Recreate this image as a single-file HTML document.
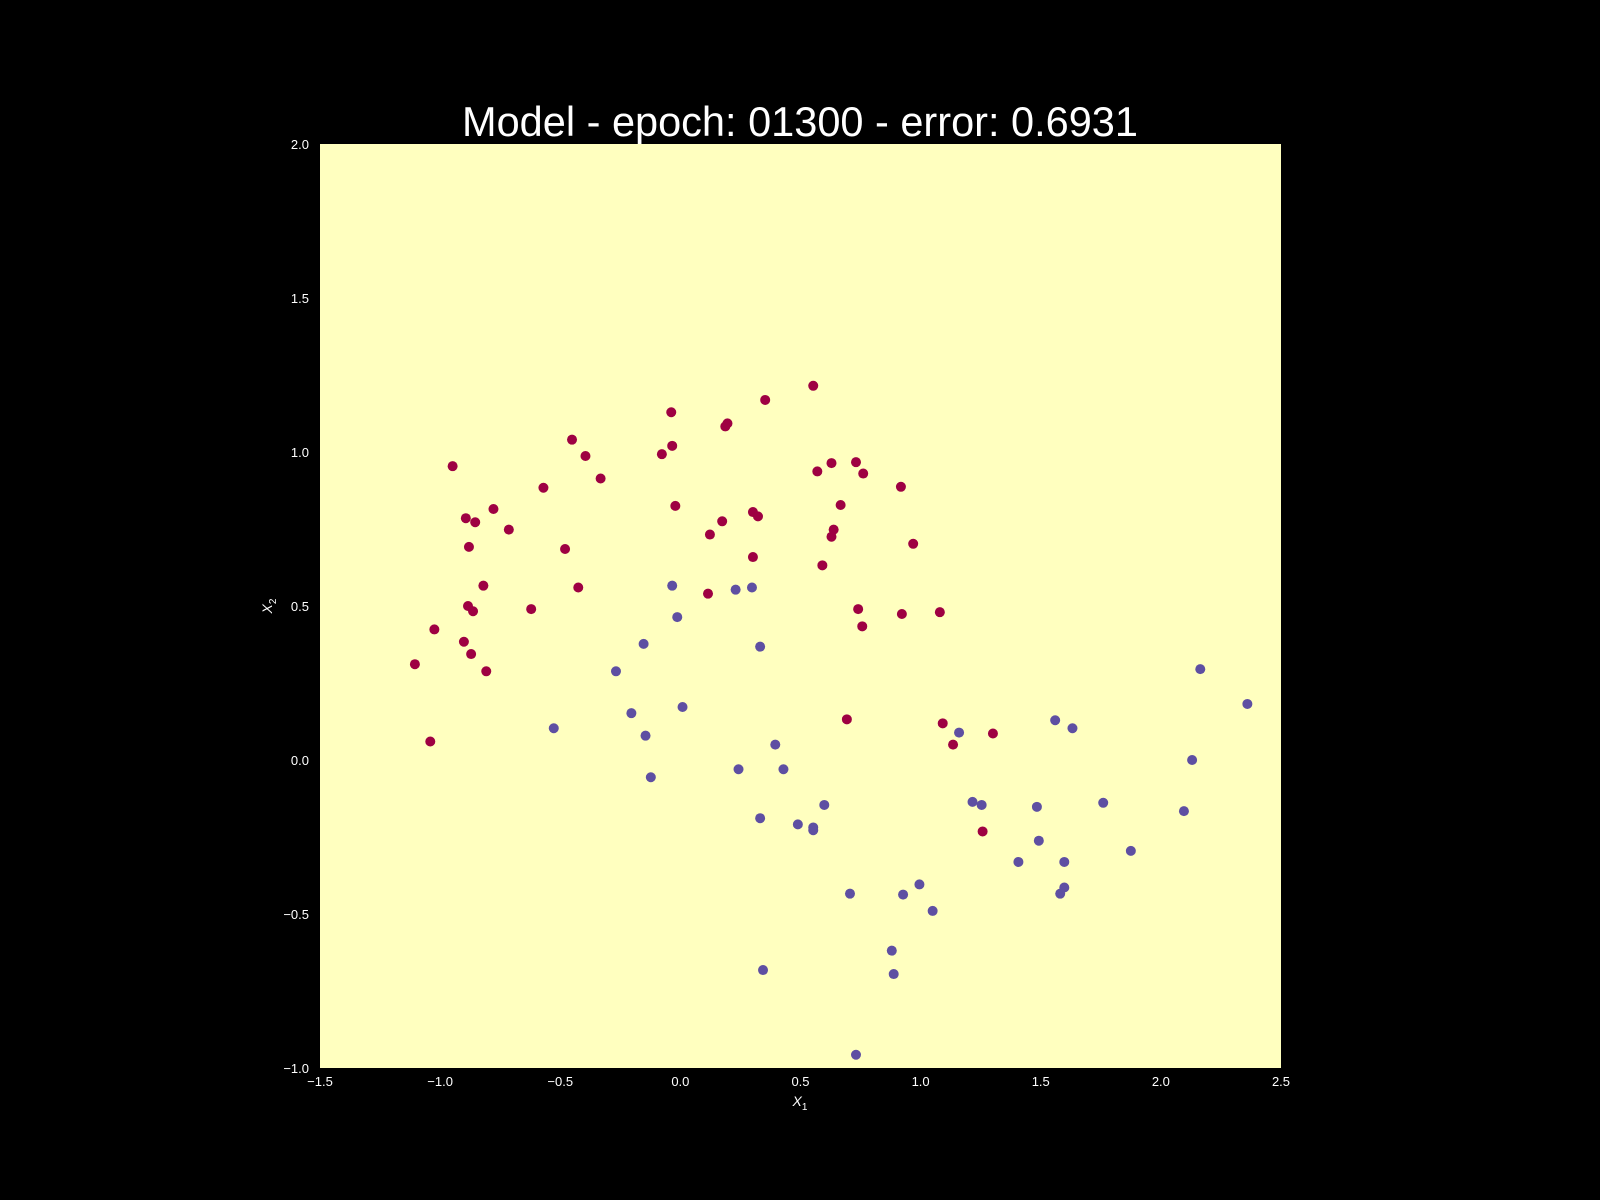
<!DOCTYPE html>
<html><head><meta charset="utf-8"><style>
html,body{margin:0;padding:0;background:#000;}
svg{display:block;font-family:"Liberation Sans",sans-serif;}
</style></head><body>
<svg id="chart" width="1600" height="1200" viewBox="0 0 1600 1200">
<rect x="0" y="0" width="1600" height="1200" fill="#000"/>
<text x="800" y="136" fill="#fff" font-size="41.5" text-anchor="middle">Model - epoch: 01300 - error: 0.6931</text>
<rect x="320" y="144" width="961" height="924" fill="#ffffbf"/>
<g id="ticks"></g>
<g id="points"></g>
<text x="800" y="1106" fill="#fff" font-size="14" font-style="italic" text-anchor="middle">X<tspan font-size="10" dy="4" font-style="normal">1</tspan></text>
<text transform="translate(272,606) rotate(-90)" fill="#fff" font-size="14" font-style="italic" text-anchor="middle">X<tspan font-size="10" dy="4" font-style="normal">2</tspan></text>
</svg>
<script>
const xTicks=[-1.5,-1.0,-0.5,0.0,0.5,1.0,1.5,2.0,2.5];
const yTicks=[-1.0,-0.5,0.0,0.5,1.0,1.5,2.0];
const redX=[-1.105,-1.041,-1.024,-0.948,-0.893,-0.880,-0.884,-0.863,-0.901,-0.871,-0.854,-0.820,-0.808,-0.778,-0.714,-0.621,-0.570,-0.480,-0.451,-0.425,-0.395,-0.332,-0.077,-0.038,-0.034,-0.021,0.115,0.123,0.174,0.187,0.196,0.302,0.302,0.323,0.353,0.553,0.570,0.591,0.629,0.629,0.638,0.667,0.731,0.740,0.757,0.761,0.693,0.918,0.922,0.969,1.080,1.092,1.135,1.301,1.258];
const redY=[0.311,0.060,0.424,0.954,0.785,0.692,0.500,0.483,0.384,0.344,0.772,0.566,0.288,0.815,0.748,0.490,0.884,0.685,1.040,0.560,0.987,0.914,0.993,1.129,1.020,0.825,0.540,0.732,0.775,1.083,1.093,0.805,0.659,0.791,1.169,1.215,0.937,0.632,0.964,0.725,0.748,0.828,0.967,0.490,0.434,0.930,0.132,0.887,0.474,0.702,0.480,0.119,0.050,0.086,-0.232];
const blueX=[-0.527,-0.268,-0.204,-0.153,-0.145,-0.123,-0.034,-0.013,0.009,0.230,0.242,0.298,0.332,0.332,0.395,0.429,0.489,0.553,0.553,0.599,0.344,0.706,0.731,0.880,0.888,0.927,0.995,1.050,1.160,1.216,1.254,1.407,1.484,1.492,1.560,1.581,1.598,1.598,1.632,1.760,1.875,2.096,2.130,2.164,2.360];
const blueY=[0.103,0.288,0.152,0.377,0.079,-0.056,0.566,0.464,0.172,0.553,-0.030,0.560,0.368,-0.189,0.050,-0.030,-0.209,-0.219,-0.228,-0.146,-0.682,-0.434,-0.957,-0.619,-0.695,-0.437,-0.404,-0.490,0.089,-0.136,-0.146,-0.331,-0.152,-0.262,0.129,-0.434,-0.331,-0.414,0.103,-0.139,-0.295,-0.166,0.000,0.295,0.182];
const L=320,R=1281,T=144,B=1068;
function sx(v){return L+(v+1.5)/4*(R-L);}
function sy(v){return B-(v+1)/3*(B-T);}
const NS="http://www.w3.org/2000/svg";
const tg=document.getElementById('ticks');
function fmt(v){return (v<0?'\u2212':'')+Math.abs(v).toFixed(1);}
xTicks.forEach(v=>{
 const t=document.createElementNS(NS,'text');
 
 
 t.setAttribute('x',sx(v));t.setAttribute('y',B+18);
 t.setAttribute('fill','#fff');t.setAttribute('font-size','13');t.setAttribute('text-anchor','middle');
 t.textContent=fmt(v);tg.appendChild(t);
});
yTicks.forEach(v=>{
 const t=document.createElementNS(NS,'text');
 
 
 t.setAttribute('x',L-11);t.setAttribute('y',sy(v)+5);
 t.setAttribute('fill','#fff');t.setAttribute('font-size','13');t.setAttribute('text-anchor','end');
 t.textContent=fmt(v);tg.appendChild(t);
});
const pg=document.getElementById('points');
function draw(xs,ys,color,name){
 xs.forEach((x,i)=>{
  const c=document.createElementNS(NS,'circle');
  
  
  c.setAttribute('cx',sx(x));c.setAttribute('cy',sy(ys[i]));
  c.setAttribute('r','5');c.setAttribute('fill',color);
  pg.appendChild(c);
 });
}
draw(redX,redY,'#9e0142','point-class-0');
draw(blueX,blueY,'#5e4fa2','point-class-1');
</script>
</body></html>
